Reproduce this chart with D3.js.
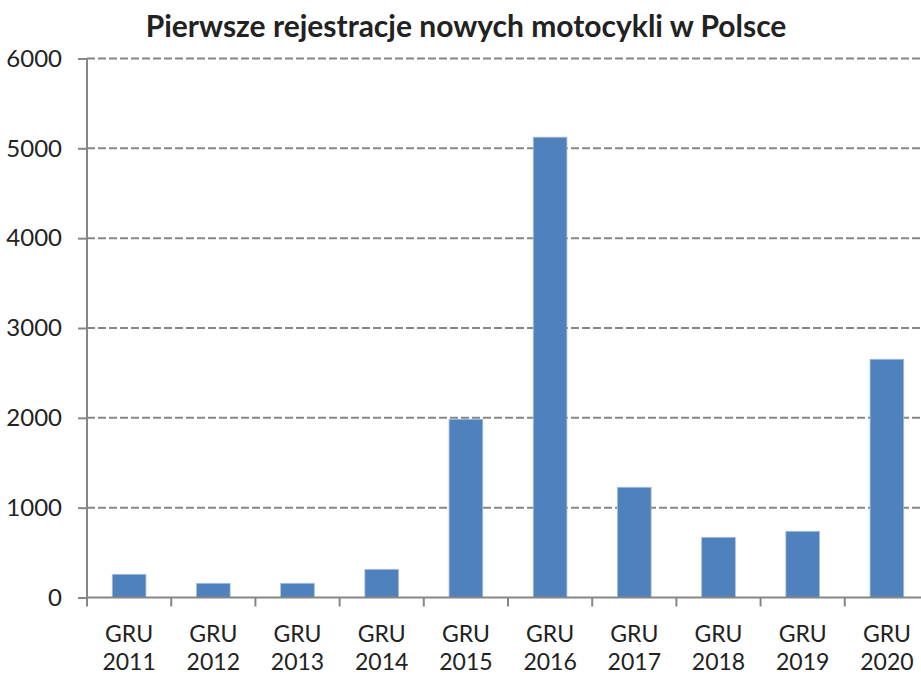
<!DOCTYPE html>
<html>
<head>
<meta charset="utf-8">
<script src="https://cdn.jsdelivr.net/npm/d3@7"></script>
<style>
  body { margin: 0; background: #fff; }
  text { font-family: Lato, "Open Sans", sans-serif; fill: #222; }
</style>
</head>
<body>
<svg width="921" height="675"></svg>
<script>
// data
var years = ["2011", "2012", "2013", "2014", "2015", "2016", "2017", "2018", "2019", "2020"];
var values = [258, 158, 158, 314, 1985, 5124, 1227, 670, 737, 2652];
var yTicks = [0, 1000, 2000, 3000, 4000, 5000, 6000];
var title = "Pierwsze rejestracje nowych motocykli w Polsce";

var svg = d3.select("svg");
var x0 = 87, x1 = 929, yTop = 58.5, yBot = 597.5;

var x = d3.scaleBand().domain(years).range([x0, x1]).paddingInner(0.6).paddingOuter(0.3);
var y = d3.scaleLinear().domain([0, 6000]).range([yBot, yTop]);

svg.append("text")
    .attr("x", 466).attr("y", 37)
    .attr("text-anchor", "middle")
    .style("font-weight", "bold").style("font-size", "30px")
    .text(title);

// grid
svg.append("g").selectAll("line").data(yTicks.filter(d => d > 0))
    .enter().append("line")
    .attr("x1", x0).attr("x2", 921)
    .attr("y1", d => y(d)).attr("y2", d => y(d))
    .attr("stroke", "#868686").attr("stroke-width", 2)
    .attr("stroke-dasharray", "8,3");

// bars
svg.append("g").selectAll("rect").data(values)
    .enter().append("rect")
    .attr("x", (d, i) => x(years[i]))
    .attr("width", x.bandwidth())
    .attr("y", d => y(d))
    .attr("height", d => y(0) - y(d))
    .attr("fill", "#4f81bd")
    .attr("stroke", "#a7c0e0").attr("stroke-width", 0.8);

// y axis
var yAxis = svg.append("g").attr("transform", "translate(" + x0 + ",0)")
    .call(d3.axisLeft(y).tickValues(yTicks).tickSize(9).tickPadding(16).tickFormat(d3.format("d")));
yAxis.selectAll("line, path").attr("stroke", "#868686").attr("stroke-width", 2);
yAxis.select("path").attr("d", "M0," + yTop + "V" + yBot);
yAxis.selectAll("text").style("font-size", "24px").attr("fill", "#222");

// x axis
var xb = d3.scaleLinear().domain([0, years.length]).range([x0, x1]);
var xAxis = svg.append("g").attr("transform", "translate(0," + yBot + ")");
xAxis.append("line").attr("x1", x0).attr("x2", 921).attr("y1", 0).attr("y2", 0)
    .attr("stroke", "#868686").attr("stroke-width", 2);
xAxis.selectAll("line.tk").data(d3.range(years.length + 1))
    .enter().append("line").attr("class", "tk")
    .attr("x1", d => xb(d)).attr("x2", d => xb(d))
    .attr("y1", 0).attr("y2", 9)
    .attr("stroke", "#868686").attr("stroke-width", 2);

var lab = svg.append("g").selectAll("text").data(years)
    .enter().append("text")
    .attr("text-anchor", "middle")
    .style("font-size", "23px");
lab.append("tspan").attr("x", d => x(d) + x.bandwidth() / 2).attr("y", 642).text("GRU");
lab.append("tspan").attr("x", d => x(d) + x.bandwidth() / 2).attr("y", 670).text(d => d);
</script>
</body>
</html>
